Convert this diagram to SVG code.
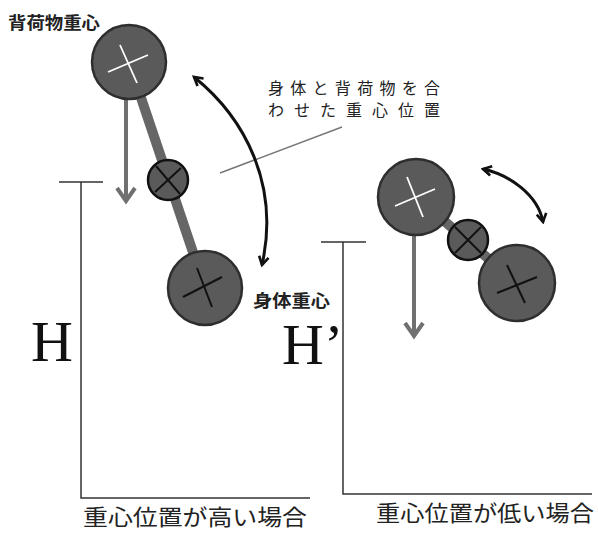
<svg xmlns="http://www.w3.org/2000/svg" width="598" height="533" viewBox="0 0 598 533">
<style>
.big{fill:#5a5a5a;stroke:#2e2e2e;stroke-width:2.5}
.mid{fill:#5a5a5a;stroke:#111;stroke-width:2.5}
.bar{stroke:#666;stroke-width:10;stroke-linecap:butt}
.wx{stroke:#fff;stroke-width:1.8}
.bx{stroke:#111;stroke-width:2}
.garrow{fill:none;stroke:#707070;stroke-width:4}
.carrow{fill:none;stroke:#111;stroke-width:3}
.ln{fill:none;stroke:#333;stroke-width:1.5}
.lbl{font-family:"Noto Sans CJK JP","Noto Sans",sans-serif;font-weight:bold;font-size:17px;fill:#222}
.note{font-family:"Noto Sans CJK JP",sans-serif;font-size:16px;fill:#222}
.cap{font-family:"Noto Sans CJK JP",sans-serif;font-size:22px;fill:#222}
.hh{font-family:"Liberation Serif",serif;font-size:58px;fill:#111}
</style>
<defs>
<marker id="ah" viewBox="0 0 10 10" refX="8" refY="5" markerWidth="4" markerHeight="4" orient="auto-start-reverse" markerUnits="strokeWidth">
<path d="M1,1 L8,5 L1,9" fill="none" stroke="#111" stroke-width="2.2"/>
</marker>
</defs>
<rect width="598" height="533" fill="#fff"/>

<g id="brackets">
<path class="ln" d="M59,182 H103 M81,182 V498 H310"/>
<path class="ln" d="M321,242 H366 M343,242 V494 H592"/>
</g>

<g id="connectors">
<line x1="220" y1="173" x2="342" y2="127" stroke="#777" stroke-width="1.5"/>
<path class="carrow" d="M194,77 C245,118 280,185 262,265" marker-start="url(#ah)" marker-end="url(#ah)"/>
<path class="carrow" d="M483,169 C510,175 538,195 543,222" marker-start="url(#ah)" marker-end="url(#ah)"/>
<path class="garrow" d="M126,100 V201 M117,188 L126,201 L135,188"/>
<path class="garrow" d="M414,235 V336 M405,323 L414,336 L423,323"/>
</g>

<g id="left-figure">
<line class="bar" x1="129" y1="62" x2="205" y2="288"/>
<g id="left-pack">
<circle class="big" cx="129" cy="62" r="37"/>
<line class="wx" x1="108" y1="72" x2="148" y2="55"/>
<line class="wx" x1="120" y1="45" x2="137" y2="83"/>
</g>
<g id="left-combined">
<circle class="mid" cx="168" cy="180" r="20"/>
<line class="bx" x1="156" y1="166" x2="180" y2="194"/>
<line class="bx" x1="181" y1="168" x2="155" y2="192"/>
</g>
<g id="left-body">
<circle class="big" cx="205" cy="288" r="37"/>
<line class="bx" x1="183" y1="297" x2="222" y2="277"/>
<line class="bx" x1="197" y1="268" x2="212" y2="307"/>
</g>
</g>

<g id="right-figure">
<line class="bar" x1="416" y1="197" x2="517" y2="283"/>
<g id="right-pack">
<circle class="big" cx="416" cy="197" r="38"/>
<line class="wx" x1="395" y1="206" x2="435" y2="189"/>
<line class="wx" x1="407" y1="177" x2="423" y2="217"/>
</g>
<g id="right-combined">
<circle class="mid" cx="468" cy="240" r="20"/>
<line class="bx" x1="455" y1="227" x2="481" y2="253"/>
<line class="bx" x1="481" y1="227" x2="455" y2="253"/>
</g>
<g id="right-body">
<circle class="big" cx="517" cy="283" r="38"/>
<line class="bx" x1="497" y1="293" x2="537" y2="277"/>
<line class="bx" x1="507" y1="265" x2="525" y2="303"/>
</g>
</g>

<g id="labels">
<text class="lbl" x="8" y="29" textLength="92" lengthAdjust="spacingAndGlyphs">背荷物重心</text>
<text class="lbl" x="253" y="307" textLength="77" lengthAdjust="spacingAndGlyphs">身体重心</text>
<text class="note" x="268" y="94" textLength="172" lengthAdjust="spacing">身体と背荷物を合</text>
<text class="note" x="268" y="116" textLength="172" lengthAdjust="spacing">わせた重心位置</text>
<text class="hh" x="31" y="361">H</text>
<text class="hh" x="282" y="364">H’</text>
<text class="cap" x="83" y="525" textLength="224" lengthAdjust="spacingAndGlyphs">重心位置が高い場合</text>
<text class="cap" x="376" y="521" textLength="218" lengthAdjust="spacingAndGlyphs">重心位置が低い場合</text>
</g>
</svg>
